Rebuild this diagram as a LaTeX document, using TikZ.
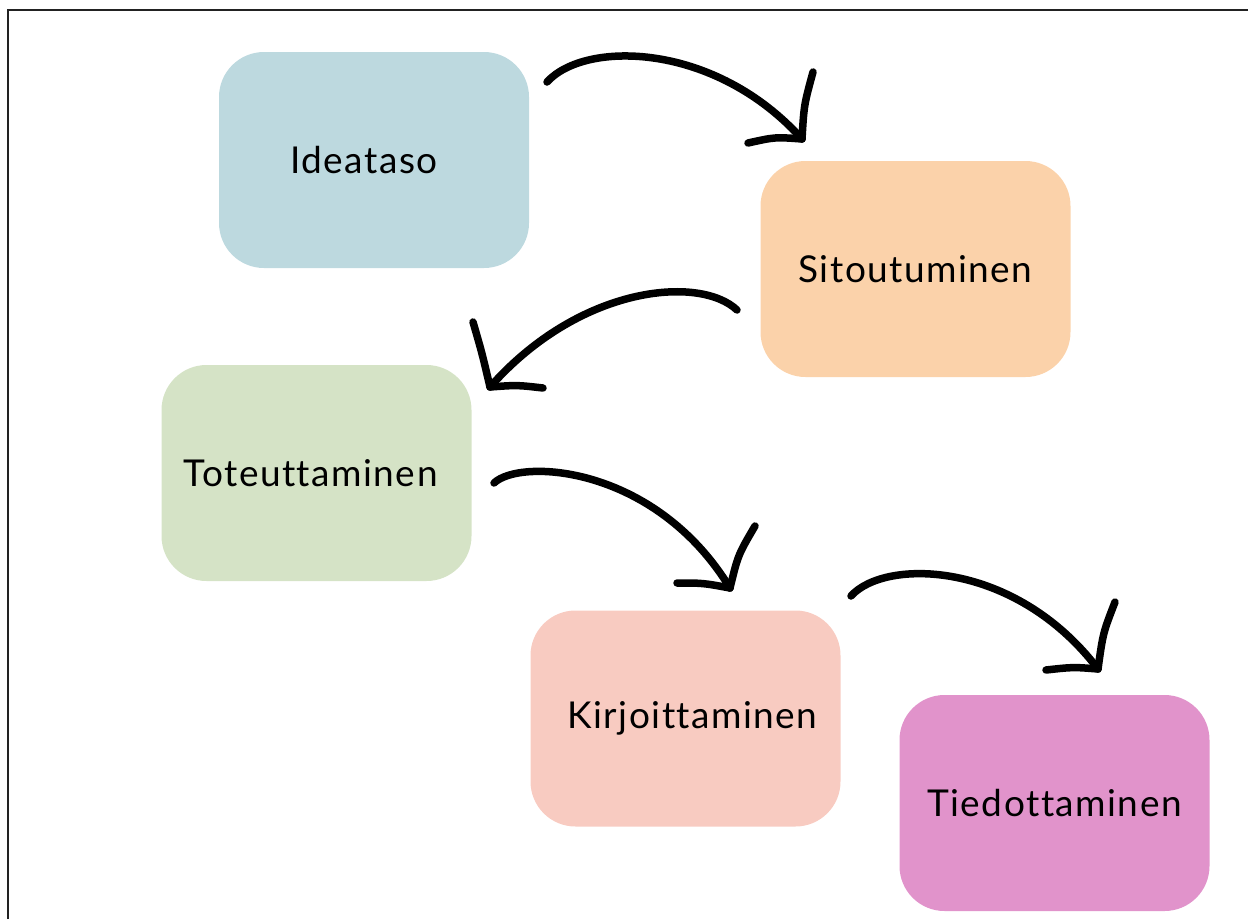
\documentclass[tikz,border=0pt]{standalone}
\usepackage{fontspec}
\setmainfont{Lato}[LetterSpace=4, Ligatures={NoCommon}]
\definecolor{cIde}{HTML}{BDD9DF}
\definecolor{cSit}{HTML}{FBD2AA}
\definecolor{cTot}{HTML}{D5E3C6}
\definecolor{cKir}{HTML}{F8CBC1}
\definecolor{cTie}{HTML}{E193CB}
\definecolor{frameC}{HTML}{222222}
\begin{document}
\begin{tikzpicture}[x=1pt,y=-1pt,
  stage/.style={rounded corners=45pt, minimum width=310pt, minimum height=216pt,
    inner sep=0pt, font=\fontsize{37}{42}\selectfont, text=black},
  hand/.style={line width=7.5pt, line cap=round, line join=round, black}]
\useasboundingbox (0,0) rectangle (1248,919);
\draw[frameC, line width=2pt] (7.5,919) -- (7.5,9.5) -- (1248,9.5);

\node[stage, fill=cIde] (ide) at (374,160) {\hspace*{-20pt}Ideataso};
\node[stage, fill=cSit] (sit) at (915.5,269) {Sitoutuminen};
\node[stage, fill=cTot] (tot) at (316.5,473) {\hspace*{-12pt}Toteuttaminen};
\node[stage, fill=cKir] (kir) at (685.5,718.5) {\hspace*{14pt}Kirjoittaminen};
\node[stage, fill=cTie] (tie) at (1054.5,803) {Tiedottaminen};

% arrow end points
\coordinate (a1s) at (547,82);   \coordinate (a1t) at (802,139);
\coordinate (a1h) at (813,72);   \coordinate (a1k) at (748,143);
\coordinate (a2s) at (737,310);  \coordinate (a2t) at (490,387);
\coordinate (a2h) at (473,322);  \coordinate (a2k) at (543,388);
\coordinate (a3s) at (494,483);  \coordinate (a3t) at (730,588);
\coordinate (a3h) at (755,526);  \coordinate (a3k) at (677,583);
\coordinate (a4s) at (851,596);  \coordinate (a4t) at (1098,669);
\coordinate (a4h) at (1115,602); \coordinate (a4k) at (1046,670);

% Ideataso -> Sitoutuminen
\draw[hand] (a1s) .. controls (585,40) and (715,42) .. (a1t);
\draw[hand] (a1t) .. controls (804,105) .. (a1h);
\draw[hand] (a1t) .. controls (775,137) .. (a1k);
% Sitoutuminen -> Toteuttaminen
\draw[hand] (a2s) .. controls (700,275) and (580,285) .. (a2t);
\draw[hand] (a2t) .. controls (482,353) .. (a2h);
\draw[hand] (a2t) .. controls (517,385) .. (a2k);
% Toteuttaminen -> Kirjoittaminen
\draw[hand] (a3s) .. controls (520,458) and (655,465) .. (a3t);
\draw[hand] (a3t) .. controls (738,555) .. (a3h);
\draw[hand] (a3t) .. controls (703,583) .. (a3k);
% Kirjoittaminen -> Tiedottaminen
\draw[hand] (a4s) .. controls (885,558) and (1015,560) .. (a4t);
\draw[hand] (a4t) .. controls (1103,633) .. (a4h);
\draw[hand] (a4t) .. controls (1073,667) .. (a4k);
\end{tikzpicture}
\end{document}
